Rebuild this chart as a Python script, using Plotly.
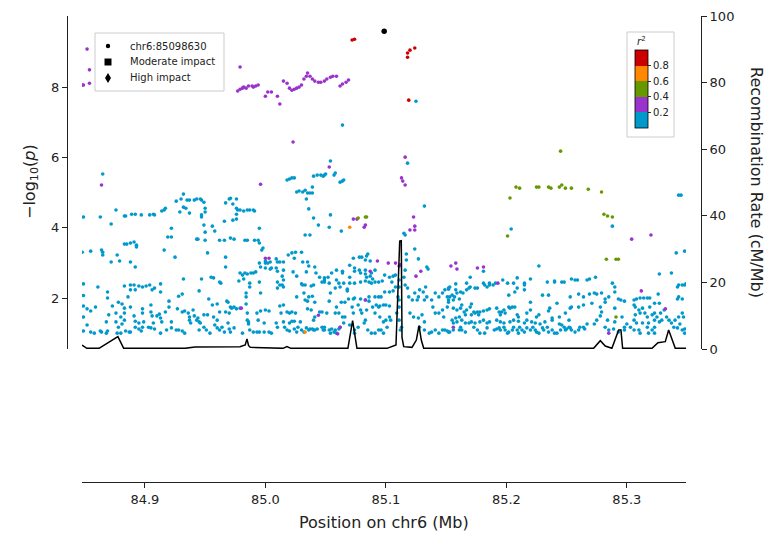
import plotly.graph_objects as go

# ---- association results (position in Mb, -log10 p), grouped by LD r^2 bin ----
lead_snp = (85.0986, 9.59)
lead_label = "chr6:85098630"

r2_00_02 = [
    (84.865, 5.53), (84.849, 4.31), (84.863, 4.31), (84.876, 4.51), (84.872, 4.11), (84.883, 4.34),
    (84.884, 4.34), (84.889, 4.39), (84.892, 4.39), (84.897, 4.37), (84.904, 4.37), (84.907, 4.39),
    (84.908, 4.37), (84.914, 4.48), (84.916, 4.51), (84.917, 4.56), (84.926, 4.76), (84.930, 4.82),
    (84.932, 4.96), (84.935, 4.79), (84.937, 4.79), (84.941, 4.79), (84.943, 4.82), (84.946, 4.82),
    (84.932, 4.59), (84.934, 4.56), (84.929, 4.45), (84.937, 4.42), (84.922, 3.99), (84.919, 3.74),
    (84.922, 3.74), (84.943, 3.68), (84.848, 3.31), (84.855, 3.34), (84.864, 3.37), (84.865, 3.31),
    (84.865, 3.23), (84.877, 3.23), (84.872, 3.03), (84.879, 3.06), (84.883, 3.54), (84.885, 3.54),
    (84.888, 3.57), (84.891, 3.60), (84.893, 3.51), (84.893, 3.46), (84.888, 3.03), (84.892, 2.89),
    (84.916, 3.37), (84.925, 3.17), (84.932, 2.55), (84.947, 2.55), (84.849, 2.41), (84.861, 2.32),
    (84.869, 2.18), (84.869, 2.01), (84.883, 2.35), (84.888, 2.38), (84.891, 2.38), (84.895, 2.35),
    (84.898, 2.32), (84.901, 2.35), (84.904, 2.38), (84.906, 2.24), (84.908, 2.29), (84.913, 2.41),
    (84.913, 2.18), (84.888, 2.24), (84.892, 2.24), (84.849, 2.08), (84.849, 1.78), (84.852, 1.70),
    (84.859, 1.75), (84.855, 1.64), (84.849, 1.47), (84.852, 1.24), (84.849, 1.07), (84.855, 1.04),
    (84.858, 1.01), (84.863, 1.07), (84.864, 1.04), (84.868, 1.01), (84.869, 1.07), (84.868, 1.33),
    (84.870, 1.53), (84.873, 1.78), (84.878, 1.89), (84.881, 1.84), (84.883, 1.72), (84.886, 2.04),
    (84.876, 1.58), (84.880, 1.47), (84.883, 1.38), (84.883, 1.58), (84.876, 1.33), (84.878, 1.18),
    (84.881, 1.27), (84.877, 1.01), (84.880, 1.01), (84.884, 1.07), (84.887, 1.04), (84.888, 1.04),
    (84.888, 1.75), (84.891, 1.50), (84.892, 1.35), (84.895, 1.30), (84.892, 1.18), (84.895, 1.13),
    (84.897, 1.07), (84.898, 1.18), (84.899, 1.33), (84.898, 1.58), (84.898, 1.70), (84.905, 1.81),
    (84.905, 1.61), (84.906, 1.50), (84.910, 1.50), (84.912, 1.55), (84.913, 1.44), (84.914, 1.33),
    (84.917, 1.61), (84.920, 1.92), (84.920, 1.75), (84.922, 1.33), (84.903, 1.18), (84.905, 1.16),
    (84.907, 1.30), (84.908, 1.13), (84.913, 1.01), (84.918, 1.10), (84.922, 1.16), (84.926, 1.10),
    (84.928, 1.10), (84.931, 1.07), (84.933, 1.01), (84.927, 1.70), (84.931, 1.61), (84.933, 1.64),
    (84.936, 1.58), (84.937, 1.47), (84.937, 1.38), (84.938, 1.30), (84.940, 1.67), (84.941, 1.50),
    (84.944, 1.44), (84.945, 1.33), (84.945, 1.10), (84.928, 2.06), (84.931, 2.12), (84.945, 2.21),
    (85.018, 5.36), (85.020, 5.39), (85.022, 5.42), (85.024, 5.42), (85.040, 5.47), (85.043, 5.50),
    (85.046, 5.50), (85.049, 5.50), (85.050, 5.53), (85.026, 5.02), (85.028, 5.05), (85.031, 5.02),
    (85.033, 5.07), (85.035, 4.99), (85.037, 4.99), (85.039, 4.99), (85.039, 5.16), (85.034, 4.82),
    (85.036, 4.54), (85.040, 4.28), (85.044, 4.08), (85.033, 3.80), (85.037, 3.80), (84.947, 4.79),
    (84.949, 4.73), (84.950, 4.56), (84.950, 4.45), (84.947, 4.37), (84.947, 4.31), (84.970, 4.82),
    (84.971, 4.84), (84.967, 4.71), (84.973, 4.68), (84.976, 4.82), (84.976, 4.56), (84.977, 4.51),
    (84.979, 4.51), (84.982, 4.48), (84.985, 4.51), (84.987, 4.51), (84.990, 4.51), (84.991, 4.48),
    (84.976, 4.39), (84.976, 4.25), (84.973, 4.22), (84.949, 4.08), (84.950, 3.88), (84.956, 4.05),
    (84.958, 3.91), (84.966, 4.19), (84.995, 3.99), (84.944, 3.68), (84.950, 3.65), (84.962, 3.65),
    (84.966, 3.65), (84.971, 3.71), (84.974, 3.68), (84.983, 3.65), (84.985, 3.65), (84.991, 3.65),
    (84.994, 3.65), (84.995, 3.57), (84.997, 3.37), (84.998, 3.43), (84.952, 3.29), (84.967, 3.17),
    (84.967, 2.89), (84.955, 2.60), (84.957, 2.58), (84.962, 2.46), (84.963, 2.43), (84.979, 2.72),
    (84.981, 2.66), (84.983, 2.72), (84.985, 2.69), (84.988, 2.72), (84.990, 2.72), (84.992, 2.75),
    (84.978, 2.49), (84.982, 2.55), (84.995, 3.00), (84.996, 2.89), (85.000, 3.06), (85.000, 3.00),
    (85.002, 3.00), (85.004, 3.03), (85.005, 2.86), (85.009, 3.12), (85.010, 3.03), (85.012, 3.03),
    (85.015, 3.03), (85.019, 3.23), (85.022, 3.29), (85.025, 3.31), (85.030, 3.31), (85.024, 3.14),
    (85.031, 3.03), (85.035, 3.03), (85.000, 2.86), (85.004, 2.83), (85.009, 2.86), (85.010, 2.77),
    (85.015, 2.80), (85.014, 2.63), (85.015, 2.52), (85.010, 2.46), (84.995, 2.46), (84.987, 2.43),
    (84.987, 2.32), (85.010, 2.29), (85.012, 2.38), (85.014, 2.38), (85.015, 2.32), (85.023, 2.75),
    (85.026, 2.63), (85.026, 2.04), (85.030, 2.41), (85.031, 2.38), (85.034, 2.75), (85.036, 2.92),
    (85.033, 2.38), (85.038, 2.35), (85.040, 2.38), (85.041, 2.89), (85.042, 2.72), (85.045, 2.60),
    (85.049, 2.52), (85.049, 2.58), (85.032, 2.15), (85.036, 2.04), (85.039, 2.06), (85.041, 1.89),
    (85.035, 1.92), (85.033, 1.95), (85.038, 1.67), (85.035, 1.70), (85.045, 1.61), (84.984, 2.15),
    (84.984, 2.04), (84.984, 1.84), (84.985, 1.58), (84.986, 1.33), (84.996, 2.15), (84.953, 1.98),
    (84.960, 1.84), (84.956, 1.81), (84.968, 1.92), (84.969, 1.89), (84.971, 1.75), (84.972, 1.72),
    (84.974, 1.75), (84.962, 1.61), (84.967, 1.61), (84.970, 1.58), (84.976, 1.70), (84.979, 1.72),
    (84.949, 1.53), (84.952, 1.53), (84.957, 1.47), (84.960, 1.38), (84.943, 1.38), (84.946, 1.30),
    (84.949, 1.18), (84.951, 1.10), (84.954, 1.01), (84.958, 1.24), (84.960, 1.16), (84.962, 1.10),
    (84.964, 1.18), (84.966, 1.04), (84.969, 1.30), (84.970, 1.13), (84.971, 1.04), (84.974, 1.16),
    (84.981, 1.01), (84.985, 1.38), (84.986, 1.27), (84.987, 1.10), (84.990, 1.04), (84.993, 1.04),
    (84.995, 1.04), (84.999, 1.04), (85.003, 1.04), (85.005, 1.01), (84.993, 1.58), (84.996, 1.64),
    (85.000, 1.67), (85.003, 1.64), (84.994, 1.38), (84.999, 1.30), (85.012, 1.78), (85.015, 1.81),
    (85.013, 1.58), (85.018, 1.61), (85.020, 1.58), (85.022, 1.61), (85.025, 1.58), (85.009, 1.30),
    (85.010, 1.18), (85.015, 1.33), (85.020, 1.30), (85.022, 1.35), (85.024, 1.35), (85.016, 1.18),
    (85.018, 1.10), (85.020, 1.07), (85.024, 1.13), (85.027, 1.18), (85.026, 1.04), (85.030, 1.10),
    (85.032, 1.04), (85.029, 1.33), (85.034, 1.16), (85.036, 1.10), (85.037, 1.13), (85.039, 1.13),
    (85.040, 1.10), (85.041, 1.10), (85.043, 1.13), (85.041, 1.47), (85.040, 1.38), (85.048, 1.10),
    (85.049, 1.18),
    (85.064, 6.92), (85.054, 5.90), (85.048, 5.47), (85.058, 5.56), (85.057, 5.50), (85.062, 5.30),
    (85.064, 5.33), (85.065, 5.36), (85.054, 4.37), (85.053, 4.02), (85.063, 3.91), (85.118, 5.84),
    (85.132, 4.62), (85.115, 3.85), (85.116, 3.80), (85.124, 3.40), (85.117, 3.26), (85.127, 3.12),
    (85.134, 2.89), (85.135, 2.83), (85.073, 3.14), (85.078, 3.17), (85.080, 3.17), (85.084, 3.20),
    (85.085, 3.26), (85.083, 3.09), (85.087, 3.06), (85.070, 2.94), (85.074, 2.86), (85.074, 2.77),
    (85.078, 2.80), (85.079, 2.72), (85.083, 2.80), (85.083, 2.69), (85.084, 2.60), (85.087, 2.63),
    (85.088, 2.72), (85.091, 2.80), (85.089, 2.55), (85.091, 2.46), (85.094, 2.46), (85.097, 2.49),
    (85.099, 2.66), (85.103, 2.60), (85.106, 2.63), (85.108, 2.66), (85.059, 2.80), (85.064, 2.77),
    (85.064, 2.72), (85.055, 2.72), (85.052, 2.60), (85.053, 2.43), (85.049, 2.46), (85.047, 2.46),
    (85.059, 2.52), (85.061, 2.43), (85.065, 2.43), (85.062, 2.32), (85.070, 2.60), (85.070, 2.43),
    (85.068, 2.26), (85.074, 2.43), (85.079, 2.46), (85.083, 2.49), (85.086, 2.46), (85.088, 2.43),
    (85.058, 2.29), (85.054, 2.15), (85.053, 1.92), (85.068, 2.21), (85.069, 1.98), (85.073, 1.98),
    (85.074, 2.01), (85.079, 1.98), (85.083, 1.95), (85.086, 2.04), (85.086, 1.92), (85.091, 2.04),
    (85.094, 2.04), (85.096, 2.04), (85.099, 2.18), (85.103, 2.18), (85.106, 2.21), (85.108, 2.32),
    (85.105, 2.46), (85.063, 1.89), (85.066, 1.89), (85.059, 1.75), (85.047, 1.61), (85.051, 1.58),
    (85.058, 1.58), (85.061, 1.58), (85.064, 1.47), (85.066, 1.47), (85.072, 1.75), (85.073, 1.58),
    (85.077, 1.81), (85.079, 1.67), (85.080, 1.58), (85.084, 1.67), (85.089, 1.75), (85.092, 1.81),
    (85.094, 1.75), (85.095, 1.78), (85.098, 1.81), (85.100, 1.81), (85.103, 1.78), (85.091, 1.58),
    (85.095, 1.47), (85.103, 1.47), (85.098, 1.33), (85.100, 1.38), (85.104, 1.38), (85.101, 1.18),
    (85.047, 1.18), (85.049, 1.10), (85.053, 1.10), (85.055, 1.13), (85.058, 1.10), (85.061, 1.13),
    (85.062, 1.18), (85.054, 1.01), (85.057, 1.04), (85.059, 1.01), (85.065, 1.30), (85.070, 1.24),
    (85.074, 1.10), (85.074, 1.01), (85.077, 1.18), (85.082, 1.30), (85.083, 1.38), (85.085, 1.10),
    (85.088, 1.01), (85.091, 1.01), (85.094, 1.10), (85.096, 1.10), (85.098, 1.01), (85.111, 2.52),
    (85.111, 2.32), (85.110, 2.04), (85.111, 1.95), (85.111, 1.75), (85.109, 1.58), (85.111, 1.38),
    (85.112, 1.10), (85.113, 1.18), (85.116, 2.38), (85.118, 2.29), (85.115, 2.60), (85.116, 2.80),
    (85.117, 3.09), (85.119, 2.04), (85.122, 1.95), (85.124, 2.15), (85.126, 1.95), (85.127, 2.04),
    (85.128, 2.24), (85.131, 2.18), (85.132, 1.95), (85.133, 2.32), (85.134, 2.04), (85.138, 1.95),
    (85.139, 1.75), (85.120, 1.58), (85.123, 1.47), (85.127, 1.44), (85.130, 1.53), (85.132, 1.33),
    (85.128, 1.18), (85.132, 1.10), (85.136, 1.01), (85.138, 1.04), (85.141, 1.10), (85.144, 1.01),
    (85.147, 1.10), (85.149, 1.10), (85.152, 1.04), (85.141, 2.15), (85.144, 2.04), (85.147, 2.15),
    (85.149, 2.24), (85.152, 2.29), (85.153, 2.32), (85.152, 1.95), (85.151, 1.75), (85.141, 1.58),
    (85.144, 1.58), (85.147, 1.67), (85.148, 1.47),
    (85.125, 7.60),
    (85.204, 3.97), (85.181, 2.77), (85.227, 2.92), (85.151, 2.04), (85.153, 2.04), (85.155, 2.09),
    (85.157, 2.04), (85.159, 2.15), (85.162, 2.18), (85.164, 2.15), (85.167, 2.24), (85.169, 2.29),
    (85.170, 2.32), (85.170, 2.60), (85.167, 2.43), (85.174, 2.29), (85.176, 2.29), (85.181, 2.43),
    (85.182, 2.38), (85.184, 2.32), (85.186, 2.43), (85.186, 2.38), (85.189, 2.38), (85.191, 2.43),
    (85.197, 2.52), (85.201, 2.43), (85.206, 2.43), (85.209, 2.58), (85.215, 2.43), (85.215, 2.38),
    (85.220, 2.55), (85.234, 2.46), (85.240, 2.46), (85.240, 2.49), (85.246, 2.46), (85.248, 2.46),
    (85.254, 2.55), (85.257, 2.52), (85.152, 2.26), (85.158, 2.41), (85.158, 2.24), (85.161, 1.98),
    (85.156, 1.95), (85.152, 1.89), (85.209, 2.29), (85.207, 2.18), (85.215, 2.24), (85.202, 2.09),
    (85.230, 2.09), (85.235, 2.09), (85.253, 2.04), (85.253, 1.72), (85.236, 1.72), (85.242, 1.86),
    (85.156, 1.72), (85.159, 1.67), (85.162, 1.72), (85.163, 1.81), (85.165, 1.61), (85.167, 1.67),
    (85.170, 1.75), (85.171, 1.84), (85.173, 1.61), (85.174, 1.58), (85.176, 1.61), (85.178, 1.61),
    (85.181, 1.64), (85.184, 1.67), (85.186, 1.70), (85.177, 1.53), (85.171, 1.53), (85.166, 1.53),
    (85.161, 1.47), (85.158, 1.44), (85.192, 1.72), (85.194, 1.61), (85.196, 1.61), (85.198, 1.67),
    (85.199, 1.58), (85.195, 1.53), (85.202, 1.75), (85.203, 1.72), (85.205, 1.75), (85.207, 1.75),
    (85.209, 1.53), (85.210, 1.47), (85.217, 1.58), (85.220, 1.89), (85.220, 1.67), (85.225, 1.47),
    (85.227, 1.53), (85.235, 1.64), (85.238, 1.44), (85.244, 1.47), (85.249, 1.58), (85.252, 1.38),
    (85.155, 1.38), (85.156, 1.30), (85.159, 1.33), (85.163, 1.38), (85.166, 1.30), (85.169, 1.30),
    (85.171, 1.33), (85.174, 1.30), (85.178, 1.33), (85.181, 1.38), (85.184, 1.30), (85.186, 1.33),
    (85.162, 1.18), (85.161, 1.10), (85.156, 1.10), (85.153, 1.04), (85.151, 1.07), (85.163, 1.10),
    (85.166, 1.04), (85.173, 1.18), (85.176, 1.10), (85.178, 1.01), (85.182, 1.01), (85.184, 1.16),
    (85.190, 1.10), (85.192, 1.13), (85.194, 1.16), (85.195, 1.10), (85.198, 1.18), (85.199, 1.10),
    (85.201, 1.01), (85.202, 1.04), (85.205, 1.10), (85.206, 1.18), (85.209, 1.10), (85.210, 1.01),
    (85.211, 1.18), (85.213, 1.10), (85.215, 1.04), (85.217, 1.16), (85.220, 1.10), (85.222, 1.18),
    (85.224, 1.10), (85.225, 1.04), (85.227, 1.01), (85.230, 1.16), (85.231, 1.10), (85.234, 1.18),
    (85.235, 1.04), (85.238, 1.10), (85.240, 1.01), (85.242, 1.01), (85.245, 1.10), (85.246, 1.24),
    (85.248, 1.18), (85.249, 1.10), (85.250, 1.13), (85.252, 1.18), (85.253, 1.16), (85.254, 1.10),
    (85.192, 1.38), (85.195, 1.33), (85.198, 1.30), (85.203, 1.33), (85.206, 1.38), (85.210, 1.35),
    (85.215, 1.30), (85.217, 1.38), (85.221, 1.33), (85.224, 1.30), (85.228, 1.27), (85.232, 1.33),
    (85.238, 1.38), (85.244, 1.27),
    (85.288, 4.05), (85.343, 4.93), (85.345, 4.93), (85.341, 3.29), (85.348, 3.34), (85.327, 2.69),
    (85.337, 2.72), (85.342, 2.32), (85.343, 2.38), (85.346, 2.38), (85.348, 2.38), (85.349, 2.41),
    (85.259, 2.52), (85.267, 2.52), (85.269, 2.55), (85.274, 2.60), (85.288, 2.43), (85.290, 2.32),
    (85.290, 2.18), (85.260, 2.12), (85.264, 2.04), (85.269, 2.12), (85.273, 2.15), (85.275, 2.12),
    (85.279, 2.15), (85.282, 1.89), (85.285, 2.04), (85.282, 1.98), (85.293, 1.98), (85.295, 1.95),
    (85.298, 1.92), (85.306, 1.95), (85.308, 1.98), (85.311, 2.01), (85.314, 2.01), (85.317, 2.01),
    (85.319, 2.01), (85.326, 2.12), (85.323, 1.86), (85.327, 1.86), (85.342, 1.98), (85.346, 1.98),
    (85.343, 2.04), (85.254, 1.75), (85.260, 1.75), (85.264, 1.81), (85.271, 1.86), (85.278, 1.75),
    (85.279, 1.61), (85.278, 1.50), (85.275, 1.38), (85.273, 1.27), (85.267, 1.27), (85.264, 1.18),
    (85.265, 1.13), (85.260, 1.10), (85.261, 1.18), (85.257, 1.04), (85.290, 1.72), (85.296, 1.47),
    (85.290, 1.33), (85.284, 1.38), (85.282, 1.18), (85.285, 1.10), (85.289, 1.13), (85.293, 1.04),
    (85.298, 1.10), (85.298, 1.18), (85.300, 1.27), (85.306, 1.81), (85.307, 1.75), (85.310, 1.67),
    (85.311, 1.58), (85.313, 1.72), (85.315, 1.58), (85.319, 1.75), (85.307, 1.53), (85.306, 1.38),
    (85.308, 1.30), (85.313, 1.30), (85.303, 1.18), (85.306, 1.10), (85.310, 1.10), (85.311, 1.01),
    (85.317, 1.18), (85.321, 1.10), (85.318, 1.01), (85.323, 1.01), (85.323, 1.18), (85.327, 1.33),
    (85.329, 1.38), (85.328, 1.58), (85.331, 1.67), (85.333, 1.47), (85.335, 1.38), (85.337, 1.30),
    (85.339, 1.18), (85.340, 1.38), (85.343, 1.47), (85.346, 1.58), (85.347, 1.47), (85.344, 1.27),
    (85.342, 1.16), (85.346, 1.10), (85.348, 1.13), (85.348, 1.01), (85.321, 1.53), (85.323, 1.58),
    (85.325, 1.47), (85.317, 1.47), (85.323, 1.38), (85.318, 1.30),
]

r2_02_04 = [
    (84.848, 8.06), (84.849, 8.06), (84.854, 8.11), (84.854, 8.49), (84.852, 9.08), (84.864, 5.22),
    (84.979, 8.57), (84.977, 7.89), (84.979, 7.94), (84.981, 7.97), (84.982, 8.00), (84.984, 7.97),
    (84.986, 8.03), (84.989, 8.03), (84.990, 8.00), (84.992, 8.03), (84.994, 8.06), (85.000, 7.74),
    (85.002, 7.86), (85.005, 7.86), (85.010, 7.74), (85.012, 7.52), (85.015, 8.17), (85.018, 8.11),
    (85.020, 7.97), (85.022, 7.91), (85.024, 7.94), (85.026, 7.97), (85.028, 8.00), (85.030, 8.06),
    (85.032, 8.23), (85.034, 8.31), (85.035, 8.40), (85.037, 8.31), (85.039, 8.23), (85.041, 8.17),
    (85.044, 8.14), (85.046, 8.14), (85.049, 8.17), (85.051, 8.23), (85.054, 8.28), (85.056, 8.31),
    (85.059, 8.31), (85.062, 8.03), (85.064, 8.09), (85.067, 8.14), (85.069, 8.20),
    (85.023, 6.44), (84.996, 5.24), (85.000, 3.14), (85.003, 3.14), (84.980, 1.72), (85.044, 1.52),
    (85.053, 5.73), (85.116, 6.01), (85.113, 5.42), (85.114, 5.33), (85.116, 5.22), (85.073, 4.25),
    (85.076, 4.25), (85.083, 4.08), (85.082, 4.02), (85.123, 4.31), (85.124, 4.05), (85.124, 3.94),
    (85.120, 3.94), (85.093, 3.06), (85.102, 3.00), (85.108, 3.00), (85.111, 2.92), (85.112, 2.95),
    (85.087, 2.77), (85.083, 1.95), (85.129, 2.77), (85.125, 2.63), (85.060, 0.99), (85.062, 1.18),
    (85.154, 2.92), (85.158, 3.00), (85.159, 2.83), (85.176, 2.86), (85.181, 2.89), (85.193, 2.43),
    (85.156, 1.18), (85.304, 3.68), (85.320, 3.80), (85.312, 2.21), (85.332, 1.70), (85.285, 1.01),
]

r2_04_06 = [
    (85.077, 4.28), (85.083, 4.31), (85.084, 4.31), (85.245, 6.18), (85.208, 5.16), (85.211, 5.13),
    (85.225, 5.16), (85.227, 5.16), (85.235, 5.16), (85.237, 5.13), (85.244, 5.16), (85.246, 5.22),
    (85.249, 5.13), (85.254, 5.13), (85.203, 4.85), (85.201, 3.77), (85.268, 5.10), (85.279, 5.02),
    (85.281, 4.39), (85.284, 4.34), (85.288, 4.31), (85.283, 3.11), (85.291, 3.11), (85.293, 3.11),
    (85.291, 1.47),
]

r2_06_08 = [(85.070, 4.02), (85.033, 1.04)]

r2_08_10 = [
    (85.072, 9.34), (85.074, 9.36), (85.118, 8.97), (85.120, 9.05), (85.124, 9.11), (85.118, 8.85),
    (85.119, 7.63),
]

# ---- recombination rate (position in Mb, cM/Mb) ----
recomb_pos = [
    84.8478, 84.8519, 84.8619, 84.8776, 84.8824, 84.9333, 84.9416, 84.9789, 84.9833, 84.9847,
    84.9861, 84.9875, 85.0146, 85.0179, 85.0212, 85.0685, 85.0724, 85.0760, 85.1009, 85.1084,
    85.1115, 85.1128, 85.1134, 85.1148, 85.1217, 85.1253, 85.1275, 85.1294, 85.1314, 85.2724,
    85.2780, 85.2821, 85.2876, 85.2932, 85.2951, 85.2965, 85.3209, 85.3258, 85.3319, 85.3347,
    85.3402, 85.3491,
]
recomb_rate = [
    1.2, 0.2, 0.2, 3.7, 0.2, 0.2, 0.6, 0.7, 1.2, 3.0,
    1.0, 0.5, 0.2, 0.7, 0.2, 0.2, 8.5, 0.2, 0.2, 1.2,
    32.4, 32.5, 3.5, 0.7, 0.5, 2.7, 7.0, 2.7, 0.2, 0.2,
    2.5, 0.9, 0.2, 5.7, 5.7, 0.2, 0.2, 1.9, 2.2, 5.7,
    0.2, 0.2,
]

x_ticks = [84.9, 85.0, 85.1, 85.2, 85.3]
x_tick_labels = ["84.9", "85.0", "85.1", "85.2", "85.3"]
logp_ticks = [2, 4, 6, 8]
recomb_ticks = [0, 20, 40, 60, 80, 100]
r2_ticks = [0.2, 0.4, 0.6, 0.8]
legend_labels = [lead_label, "Moderate impact", "High impact"]

LD_COLORS = ["#0099cc", "#9933cc", "#669900", "#ff8800", "#cc0000"]
FONT = "DejaVu Sans"
INK = "#222222"
FRAME = "#cccccc"

W, H = 769, 537
def px_x(v):
    return v / W
def px_y(v):
    return 1 - v / H

fig = go.Figure()

# recombination rate on the secondary axis
fig.add_trace(go.Scatter(
    x=recomb_pos, y=recomb_rate, mode="lines",
    line=dict(color="black", width=1.5),
    xaxis="x", yaxis="y2", showlegend=False, hoverinfo="skip",
))

# association points by LD bin
for pts, col in zip([r2_00_02, r2_02_04, r2_04_06, r2_06_08, r2_08_10], LD_COLORS):
    fig.add_trace(go.Scatter(
        x=[p[0] for p in pts], y=[p[1] for p in pts], mode="markers",
        marker=dict(color=col, size=3.6, line=dict(width=0)),
        xaxis="x", yaxis="y", showlegend=False,
    ))

# lead variant
fig.add_trace(go.Scatter(
    x=[lead_snp[0]], y=[lead_snp[1]], mode="markers", name=lead_label,
    marker=dict(color="black", size=5.5), xaxis="x", yaxis="y", showlegend=False,
))

# r^2 colour key
scale = []
for i, c in enumerate(LD_COLORS):
    scale += [[i / 5, c], [(i + 1) / 5, c]]
fig.add_trace(go.Scatter(
    x=[None], y=[None], mode="markers", showlegend=False, hoverinfo="skip",
    xaxis="x", yaxis="y",
    marker=dict(
        color=[0.5], cmin=0, cmax=1, colorscale=scale, showscale=True,
        colorbar=dict(
            x=px_x(635), xanchor="left", y=px_y(128), yanchor="bottom",
            lenmode="pixels", len=78, thickness=13, thicknessmode="pixels",
            outlinecolor="black", outlinewidth=0.8,
            bgcolor="rgba(0,0,0,0)", borderwidth=0, xpad=0, ypad=0,
            ticks="outside", ticklen=3, tickwidth=1, tickcolor="#333",
            tickvals=r2_ticks, ticktext=[f"{t:.1f}" for t in r2_ticks],
            tickfont=dict(family=FONT, size=10, color=INK),
        ),
    ),
))

# legend and colour-key frames, drawn as layout shapes
shapes = [
    dict(type="rect", xref="paper", yref="paper", layer="below",
         x0=px_x(95), x1=px_x(224), y0=px_y(91), y1=px_y(33),
         line=dict(color=FRAME, width=1), fillcolor="white"),
    dict(type="rect", xref="paper", yref="paper", layer="below",
         x0=px_x(627), x1=px_x(674), y0=px_y(137), y1=px_y(32),
         line=dict(color=FRAME, width=1), fillcolor="white"),
    # legend glyphs: dot, square, thin diamond
    dict(type="circle", xref="paper", yref="paper", layer="above",
         x0=px_x(105.8), x1=px_x(110.2), y0=px_y(48.2), y1=px_y(43.8),
         fillcolor="black", line=dict(width=0)),
    dict(type="rect", xref="paper", yref="paper", layer="above",
         x0=px_x(104.5), x1=px_x(111.5), y0=px_y(65.5), y1=px_y(58.5),
         fillcolor="black", line=dict(width=0)),
    dict(type="path", xref="paper", yref="paper", layer="above",
         path=(f"M {px_x(108)},{px_y(73)} L {px_x(111)},{px_y(78)} "
               f"L {px_x(108)},{px_y(83)} L {px_x(105)},{px_y(78)} Z"),
         fillcolor="black", line=dict(width=0)),
]

annotations = [
    dict(text=t, x=px_x(128), y=px_y(yy), xref="paper", yref="paper", showarrow=False,
         xanchor="left", yanchor="middle", font=dict(family=FONT, size=10, color=INK))
    for t, yy in zip(legend_labels, [46, 62, 78])
]
annotations += [
    dict(text="<i>r</i><sup>2</sup>", x=px_x(641), y=px_y(41), xref="paper", yref="paper",
         showarrow=False, xanchor="center", yanchor="middle",
         font=dict(family=FONT, size=10, color=INK)),
    dict(text="\u2212log<sub>10</sub>(<i>p</i>)", x=px_x(30), y=px_y(182),
         xref="paper", yref="paper", showarrow=False, textangle=-90,
         xanchor="center", yanchor="middle",
         font=dict(family=FONT, size=16, color=INK)),
    dict(text="Recombination Rate (cM/Mb)", x=px_x(757), y=px_y(182),
         xref="paper", yref="paper", showarrow=False, textangle=90,
         xanchor="center", yanchor="middle",
         font=dict(family=FONT, size=16, color=INK)),
    dict(text="Position on chr6 (Mb)", x=px_x(384), y=px_y(522),
         xref="paper", yref="paper", showarrow=False,
         xanchor="center", yanchor="middle",
         font=dict(family=FONT, size=16, color=INK)),
]

axis_common = dict(showgrid=False, zeroline=False, showline=True, linecolor=INK, linewidth=1,
                   ticks="outside", ticklen=5, tickwidth=1, tickcolor=INK,
                   tickfont=dict(family=FONT, size=13, color=INK))

fig.update_layout(
    width=W, height=H, margin=dict(l=0, r=0, t=0, b=0),
    paper_bgcolor="white", plot_bgcolor="rgba(0,0,0,0)",
    font=dict(family=FONT, color=INK), showlegend=False,
    xaxis=dict(domain=[px_x(82), px_x(686)], range=[84.8478, 85.3491],
               anchor="free", position=px_y(482),
               tickvals=x_ticks, ticktext=x_tick_labels, automargin=False, **axis_common),
    yaxis=dict(domain=[px_y(349), px_y(16)], range=[0.56, 10.02], anchor="free",
               position=px_x(67), tickvals=logp_ticks, automargin=False, **axis_common),
    yaxis2=dict(overlaying="y", side="right", range=[0, 100], anchor="free",
                position=px_x(701), tickvals=recomb_ticks, automargin=False, **axis_common),
    shapes=shapes,
    annotations=annotations,
)

fig.write_html("out.html")
